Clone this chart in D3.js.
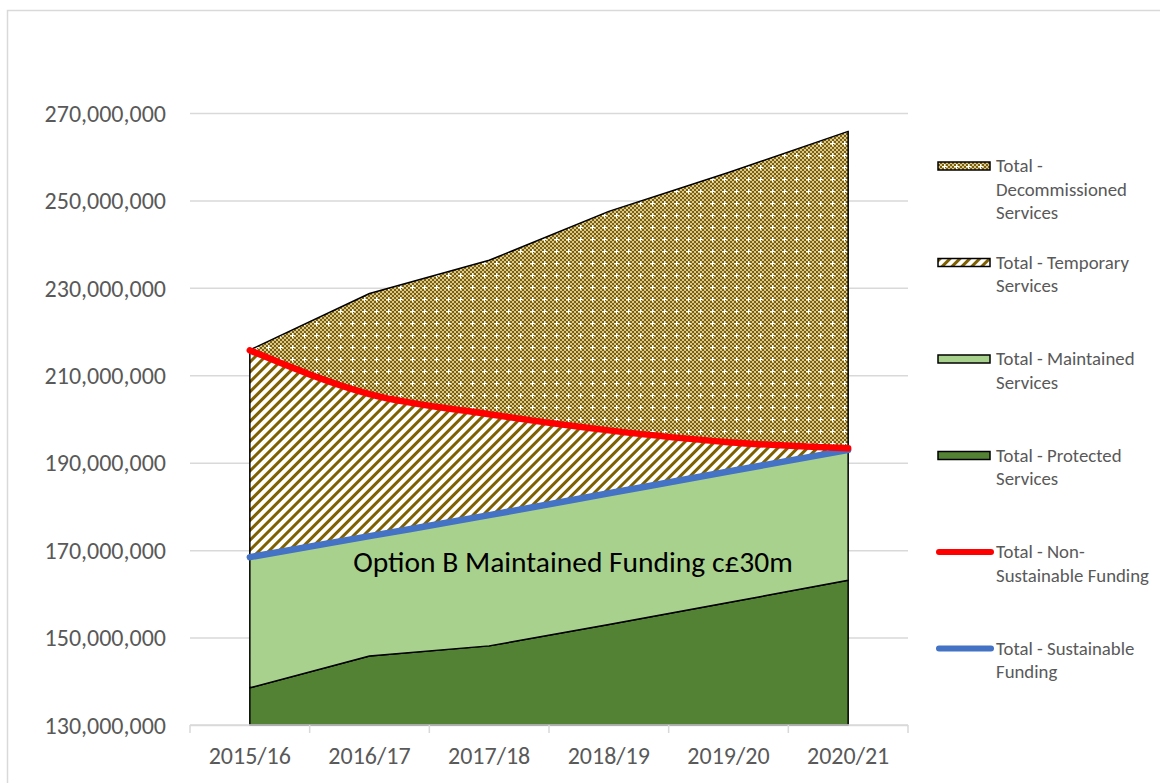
<!DOCTYPE html>
<html>
<head>
<meta charset="utf-8">
<script src="https://cdn.jsdelivr.net/npm/d3@7"></script>
<style>
  body { margin: 0; background: #fff; }
  svg { display: block; font-family: Carlito, Calibri, 'Liberation Sans', sans-serif; }
</style>
</head>
<body>
<div id="chart"></div>
<script>
// values in millions
const categories = ['2015/16', '2016/17', '2017/18', '2018/19', '2019/20', '2020/21'];
const protectedServices = [138.5, 145.8, 148.1, 153.0, 158.0, 163.1];
const maintainedServices = [29.9, 27.4, 29.9, 30.0, 30.0, 29.8];
const temporaryServices = [47.3, 32.5, 23.1, 14.4, 6.7, 0.4];
const decommissionedServices = [0.1, 23.0, 35.2, 50.1, 61.7, 72.5];
const sustainableFunding = [168.4, 173.2, 178.0, 183.0, 188.0, 192.9];
const nonSustainableFunding = [215.7, 205.7, 201.1, 197.4, 194.7, 193.3];
const yTicks = [130, 150, 170, 190, 210, 230, 250, 270];

const legendLabels = [
  ['Total -', 'Decommissioned', 'Services'],
  ['Total - Temporary', 'Services'],
  ['Total - Maintained', 'Services'],
  ['Total - Protected', 'Services'],
  ['Total - Non-', 'Sustainable Funding'],
  ['Total - Sustainable', 'Funding']
];

const width = 1160, height = 783;
const margin = { top: 113, right: 252, bottom: 58, left: 190 };
const plotW = width - margin.left - margin.right;
const plotH = height - margin.top - margin.bottom;
const textColor = '#595959';
const gridColor = '#d9d9d9';
const fontFamily = "Carlito, Calibri, 'Liberation Sans', sans-serif";

const svg = d3.select('#chart').append('svg')
  .attr('width', width)
  .attr('height', height);

// chart border
svg.append('rect')
  .attr('x', 7.5).attr('y', 10.5)
  .attr('width', width + 10).attr('height', height + 10)
  .attr('fill', 'none').attr('stroke', gridColor).attr('stroke-width', 1.5);

// patterns
const defs = svg.append('defs');

const dots = defs.append('pattern')
  .attr('id', 'decomm')
  .attr('patternUnits', 'userSpaceOnUse')
  .attr('width', 12).attr('height', 12);
dots.append('rect').attr('width', 12).attr('height', 12).attr('fill', '#d6c79a');
for (let i = 0; i < 6; i++) {
  for (let j = 0; j < 6; j++) {
    if ((i + j) % 2 === 0) {
      dots.append('rect').attr('x', i * 2).attr('y', j * 2).attr('width', 2).attr('height', 2)
        .attr('fill', '#7f6000').attr('shape-rendering', 'crispEdges');
    }
  }
}
dots.append('rect').attr('x', 5.5).attr('y', 3.5).attr('width', 1).attr('height', 5).attr('fill', '#fff').attr('shape-rendering', 'crispEdges');
dots.append('rect').attr('x', 3.5).attr('y', 5.5).attr('width', 5).attr('height', 1).attr('fill', '#fff').attr('shape-rendering', 'crispEdges');

const stripes = defs.append('pattern')
  .attr('id', 'temp')
  .attr('patternUnits', 'userSpaceOnUse')
  .attr('width', 7).attr('height', 7)
  .attr('patternTransform', 'rotate(45)');
stripes.append('rect').attr('width', 7).attr('height', 7).attr('fill', '#fff');
stripes.append('rect').attr('width', 3).attr('height', 7).attr('fill', '#7f6000');

const fills = ['#548235', '#a9d18e', 'url(#temp)', 'url(#decomm)'];

const g = svg.append('g')
  .attr('transform', 'translate(' + margin.left + ',' + margin.top + ')');

const x = d3.scaleBand()
  .domain(categories)
  .range([0, plotW])
  .padding(0);

const y = d3.scaleLinear()
  .domain([130, 270])
  .range([plotH, 0]);

const cx = (c) => x(c) + x.bandwidth() / 2;

// gridlines + y labels
const yAxis = g.append('g')
  .call(d3.axisLeft(y)
    .tickValues(yTicks)
    .tickSize(-plotW)
    .tickPadding(24)
    .tickFormat((d) => d3.format(',')(d * 1e6)))
  .attr('font-family', fontFamily)
  .attr('font-size', null);
yAxis.select('.domain').remove();
yAxis.selectAll('line').attr('stroke', gridColor).attr('stroke-width', 1.5);
yAxis.selectAll('text')
  .attr('fill', textColor)
  .attr('dy', '0.34em')
  .style('font-size', '24px');

// stacked areas
const rows = categories.map((c, i) => ({
  cat: c,
  protectedServices: protectedServices[i],
  maintainedServices: maintainedServices[i],
  temporaryServices: temporaryServices[i],
  decommissionedServices: decommissionedServices[i]
}));
const keys = ['protectedServices', 'maintainedServices', 'temporaryServices', 'decommissionedServices'];
const stack = d3.stack().keys(keys);
const series = stack(rows);

const area = d3.area()
  .x((d) => cx(d.data.cat))
  .y0((d) => y(Math.max(d[0], 130)))
  .y1((d) => y(d[1]));

g.selectAll('.area')
  .data(series)
  .enter()
  .append('path')
  .attr('class', 'area')
  .attr('d', area)
  .attr('fill', (d, i) => fills[i])
  .attr('stroke', '#000')
  .attr('stroke-width', 1.5)
  .attr('stroke-linejoin', 'round');

// x axis
g.append('line')
  .attr('x1', 0).attr('x2', plotW)
  .attr('y1', plotH).attr('y2', plotH)
  .attr('stroke', gridColor).attr('stroke-width', 1.5);

const bounds = categories.map((c) => x(c)).concat([plotW]);
g.selectAll('.xtick')
  .data(bounds)
  .enter()
  .append('line')
  .attr('class', 'xtick')
  .attr('x1', (d) => d).attr('x2', (d) => d)
  .attr('y1', plotH).attr('y2', plotH + 8)
  .attr('stroke', gridColor).attr('stroke-width', 1.5);

g.selectAll('.xlabel')
  .data(categories)
  .enter()
  .append('text')
  .attr('class', 'xlabel')
  .attr('x', (d) => cx(d))
  .attr('y', plotH + 39)
  .attr('text-anchor', 'middle')
  .attr('fill', textColor)
  .style('font-size', '24px')
  .text((d) => d);

// funding lines
const line = d3.line()
  .x((d, i) => cx(categories[i]))
  .y((d) => y(d))
  .curve(d3.curveMonotoneX);

g.append('path')
  .datum(sustainableFunding)
  .attr('d', line)
  .attr('fill', 'none')
  .attr('stroke', '#4472c4')
  .attr('stroke-width', 6.5)
  .attr('stroke-linecap', 'round');

g.append('path')
  .datum(nonSustainableFunding)
  .attr('d', line)
  .attr('fill', 'none')
  .attr('stroke', '#ff0000')
  .attr('stroke-width', 6.5)
  .attr('stroke-linecap', 'round');

// annotation
g.append('text')
  .attr('x', 383)
  .attr('y', 459)
  .attr('text-anchor', 'middle')
  .attr('fill', '#000')
  .style('font-size', '29.5px')
  .text('Option B Maintained Funding c£30m');

// legend
const legendFills = ['url(#decomm)', 'url(#temp)', '#a9d18e', '#548235'];
const legendLines = ['#ff0000', '#4472c4'];

const legend = svg.append('g').attr('class', 'legend');

legend.selectAll('.legend-item')
  .data(legendLabels)
  .enter()
  .append('g')
  .attr('class', 'legend-item')
  .attr('transform', (d, i) => 'translate(938,' + (172 + i * 96.5) + ')')
  .each((d, i, n) => {
    const item = d3.select(n[i]);
    if (i < 4) {
      item.append('rect')
        .attr('x', 0).attr('y', -10)
        .attr('width', 52).attr('height', 8)
        .attr('fill', legendFills[i])
        .attr('stroke', '#000')
        .attr('stroke-width', 1.5);
    } else {
      item.append('line')
        .attr('x1', 1).attr('x2', 53)
        .attr('y1', -6).attr('y2', -6)
        .attr('stroke', legendLines[i - 4])
        .attr('stroke-width', 6)
        .attr('stroke-linecap', 'round');
    }
    item.selectAll('text')
      .data(d)
      .enter()
      .append('text')
      .attr('x', 58)
      .attr('y', (t, k) => k * 23.5)
      .attr('fill', textColor)
      .style('font-size', '18.8px')
      .text((t) => t);
  });
</script>
</body>
</html>
